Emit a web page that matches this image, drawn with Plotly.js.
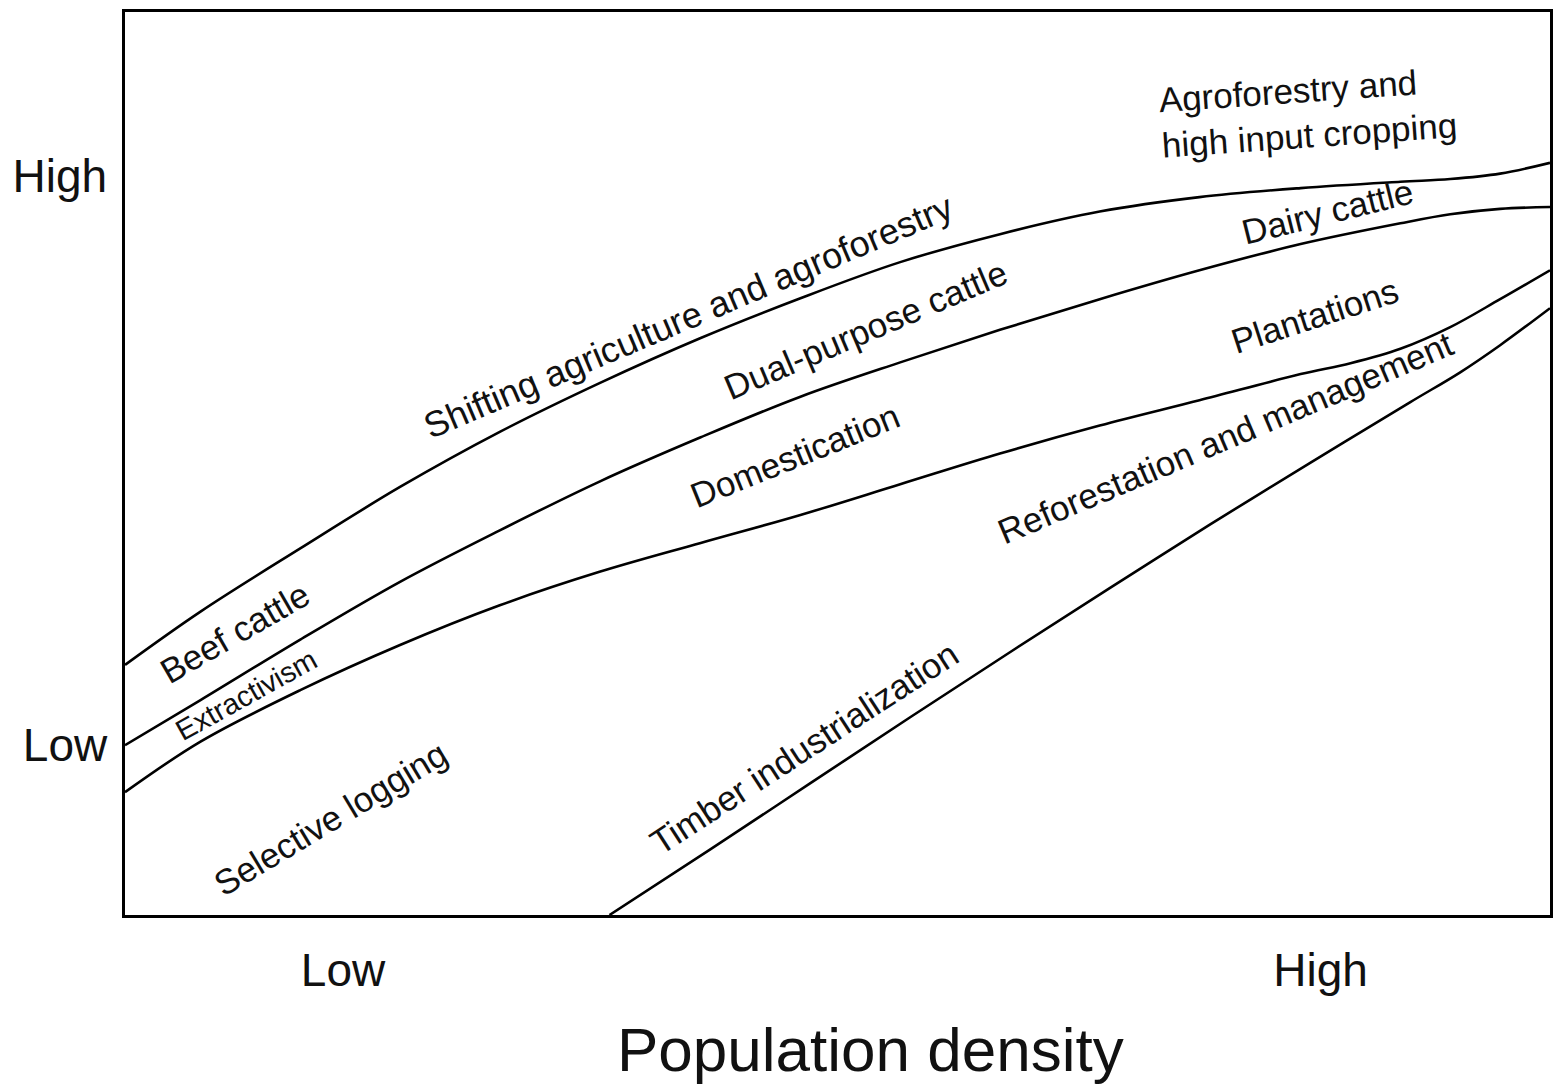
<!DOCTYPE html>
<html>
<head>
<meta charset="utf-8">
<script src="https://cdn.plot.ly/plotly-3.0.1.min.js"></script>
<style>html,body{margin:0;padding:0;background:#fff;}#chart{width:1558px;height:1090px;}</style>
</head>
<body>
<div id="chart"></div>
<script>
// Boundary curves (x: population density 0-100, y: land-use intensity 0-100)
const xUpper = [0, 5.3, 12.3, 19.3, 26.3, 33.3, 40.4, 47.4, 54.4, 61.4, 68.4, 75.4, 82.5, 89.5, 93.0, 96.5, 100];
const curveShifting = [27.7, 33.6, 40.6, 47.4, 53.5, 58.9, 63.9, 68.3, 72.3, 75.4, 77.9, 79.5, 80.5, 81.2, 81.5, 82.1, 83.3];
const curveDual = [18.8, 23.8, 30.5, 36.9, 42.6, 48.0, 52.9, 57.4, 61.2, 64.8, 68.2, 71.4, 74.3, 76.6, 77.6, 78.2, 78.4];
const xDomest = [0, 5.3, 12.3, 19.3, 26.3, 33.3, 40.4, 47.4, 54.4, 61.4, 68.4, 75.4, 82.5, 86.0, 89.5, 93.0, 96.5, 100];
const curveDomest = [13.6, 19.2, 24.9, 29.9, 34.3, 38.0, 41.2, 44.3, 47.7, 51.1, 54.2, 57.0, 59.9, 61.1, 62.7, 65.1, 68.2, 71.4];
const xTimber = [34.0, 41.1, 48.1, 55.1, 62.1, 69.1, 76.1, 83.2, 90.2, 93.7, 96.5, 100];
const curveTimber = [0, 7.3, 14.6, 21.9, 29.1, 36.2, 43.2, 50.1, 56.8, 60.1, 63.1, 67.2];

// Zone labels
const zoneText = ["Shifting agriculture and agroforestry", "Beef cattle", "Extractivism", "Selective logging",
  "Timber industrialization", "Reforestation and management", "Domestication", "Dual-purpose cattle",
  "Plantations", "Dairy cattle", "Agroforestry and<br>high input cropping"];
const zoneX = [39.5, 7.7, 8.5, 14.4, 47.7, 77.2, 47.0, 52.0, 83.5, 84.4, 83.0];
const zoneY = [66.3, 31.3, 24.4, 10.7, 18.5, 52.9, 50.9, 64.8, 66.4, 77.9, 88.9];
const zoneAngle = [-23, -30, -29, -31, -33, -23, -22, -23, -18, -14, -4];
const zoneSize = [36, 35, 29, 35, 35, 35, 35, 35, 35, 35, 35];

// Axis tick labels
const xTickVals = [15.3, 83.9];
const xTickText = ["Low", "High"];
const yTickVals = [18.8, 81.9];
const yTickText = ["Low", "High"];

const FONT = "Liberation Sans, Arial, sans-serif";
const lineStyle = {color: "#000", width: 2.6, shape: "spline", smoothing: 1};

const traces = [
  {x: xUpper, y: curveShifting, mode: "lines", line: lineStyle, hoverinfo: "skip"},
  {x: xUpper, y: curveDual, mode: "lines", line: lineStyle, hoverinfo: "skip"},
  {x: xDomest, y: curveDomest, mode: "lines", line: lineStyle, hoverinfo: "skip"},
  {x: xTimber, y: curveTimber, mode: "lines", line: lineStyle, hoverinfo: "skip"}
];

const annotations = zoneText.map((t, i) => ({
  x: zoneX[i], y: zoneY[i], xref: "x", yref: "y", text: t, showarrow: false,
  textangle: zoneAngle[i], xanchor: "center", yanchor: "middle",
  align: i === zoneText.length - 1 ? "left" : "center",
  font: {family: FONT, size: zoneSize[i], color: "#111"}
}));
annotations.push({
  x: 0.523, y: -0.1495, xref: "paper", yref: "paper", text: "Population density",
  showarrow: false, xanchor: "center", yanchor: "middle",
  font: {family: FONT, size: 62, color: "#111"}
});

const layout = {
  width: 1558, height: 1090,
  margin: {l: 125, r: 8, t: 12, b: 175},
  paper_bgcolor: "#fff", plot_bgcolor: "#fff",
  showlegend: false,
  xaxis: {range: [0, 100], showgrid: false, zeroline: false, showline: true, mirror: true,
    linecolor: "#000", linewidth: 2.6, tickmode: "array", tickvals: xTickVals, ticktext: xTickText,
    ticks: "outside", ticklen: 13, tickcolor: "rgba(0,0,0,0)",
    tickfont: {family: FONT, size: 46, color: "#111"}, fixedrange: true},
  yaxis: {range: [0, 100], showgrid: false, zeroline: false, showline: true, mirror: true,
    linecolor: "#000", linewidth: 2.6, tickmode: "array", tickvals: yTickVals, ticktext: yTickText,
    ticks: "outside", ticklen: 6, tickcolor: "rgba(0,0,0,0)",
    tickfont: {family: FONT, size: 46, color: "#111"}, fixedrange: true},
  annotations: annotations
};

Plotly.newPlot("chart", traces, layout, {displayModeBar: false, staticPlot: true});
</script>
</body>
</html>
